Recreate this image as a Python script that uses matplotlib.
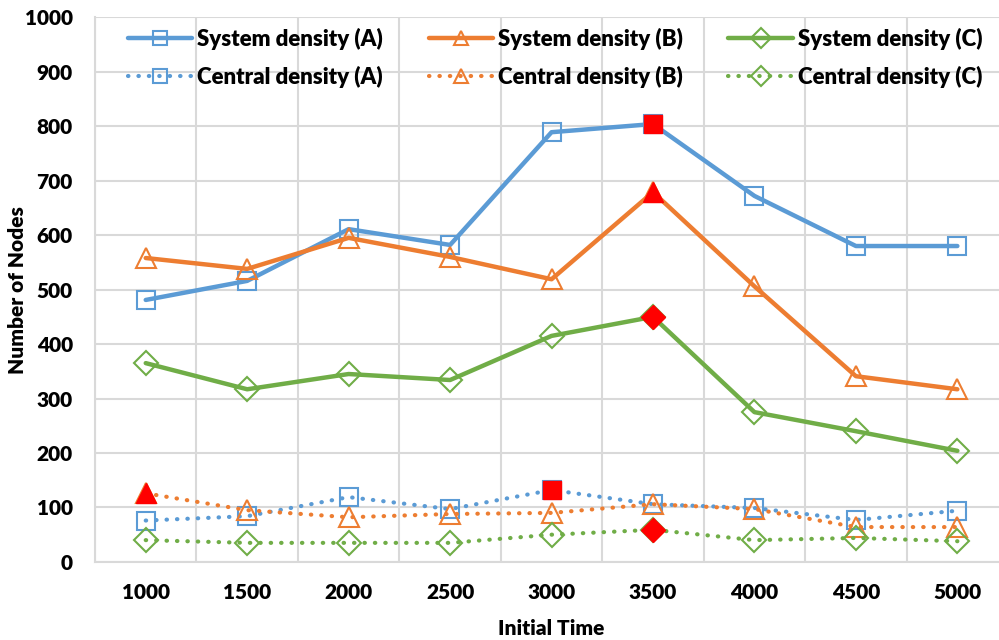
import matplotlib
matplotlib.use("Agg")
import matplotlib.pyplot as plt
import numpy as np

times = [1000, 1500, 2000, 2500, 3000, 3500, 4000, 4500, 5000]

sys_a = [481, 516, 611, 582, 789, 804, 672, 580, 580]
sys_b = [558, 538, 595, 560, 519, 679, 506, 341, 317]
sys_c = [365, 317, 345, 334, 415, 450, 275, 240, 204]
cen_a = [76, 84, 119, 97, 132, 106, 99, 77, 94]
cen_b = [126, 95, 82, 88, 90, 106, 97, 64, 64]
cen_c = [40, 35, 35, 35, 50, 59, 40, 44, 38]

blue = "#5b9bd5"
orange = "#ed7d31"
green = "#70ad47"

series = [
    ("System density (A)", sys_a, blue, "s", "-"),
    ("Central density (A)", cen_a, blue, "s", ":"),
    ("System density (B)", sys_b, orange, "^", "-"),
    ("Central density (B)", cen_b, orange, "^", ":"),
    ("System density (C)", sys_c, green, "D", "-"),
    ("Central density (C)", cen_c, green, "D", ":"),
]

fig = plt.figure(figsize=(9.99, 6.4), dpi=100)
ax = fig.add_axes([0.0951, 0.122, 0.914, 0.851])

x = np.arange(len(times))
for label, vals, col, mk, ls in series:
    msize = 13 if mk == "s" else (14 if mk == "^" else 12)
    if ls == "-":
        ax.plot(x, vals, color=col, lw=3.2, ls="-", solid_capstyle="round",
                marker=mk, ms=msize, mfc="none", mec=col, mew=1.5,
                label=label, zorder=3)
    else:
        ax.plot(x, vals, color=col, lw=3, ls=(0, (0.1, 2.4)), dash_capstyle="round",
                marker=mk, ms=msize, mfc="none", mec=col, mew=1.5,
                label=label, zorder=3)
    # the maximum of each series is marked in solid red
    i = int(np.argmax(vals))
    ax.plot(x[i], vals[i], marker=mk, ms=msize, color="red", mec="red", zorder=4, ls="none")

ax.set_xlim(-0.5, len(times) - 0.5)
ax.set_ylim(0, 1000)
ax.set_yticks(range(0, 1001, 100))
ax.set_xticks(x)
ax.set_xticklabels([str(t) for t in times])
ax.set_xticks(np.arange(-0.5, len(times), 1), minor=True)
ax.grid(True, which="major", axis="y", color="#d9d9d9", lw=1.5)
ax.grid(True, which="minor", axis="x", color="#d9d9d9", lw=1.5)
ax.tick_params(which="both", length=0)
ax.tick_params(axis="y", labelsize=15, pad=16)
ax.tick_params(axis="x", labelsize=15, pad=15)
for lab in ax.get_xticklabels() + ax.get_yticklabels():
    lab.set_fontfamily(["Lato", "DejaVu Sans"])
    lab.set_fontweight("heavy")
for s in ["top", "right"]:
    ax.spines[s].set_visible(False)
for s in ["left", "bottom"]:
    ax.spines[s].set_color("#d9d9d9")
    ax.spines[s].set_linewidth(1.5)
ax.set_axisbelow(True)

lab_font = dict(family=["Lato", "DejaVu Sans"], weight="heavy", size=15)
ax.set_ylabel("Number of Nodes", fontdict=lab_font)
ax.yaxis.set_label_coords(-0.074, 0.5)
ax.set_xlabel("Initial Time", fontdict=lab_font)
ax.xaxis.set_label_coords(0.5, -0.104)

leg = ax.legend(ncol=3, loc="upper left", bbox_to_anchor=(0.036, 0.98), frameon=False,
                borderpad=0, borderaxespad=0,
                handlelength=2.9, handletextpad=0.22, columnspacing=2.05, labelspacing=0.7,
                prop=dict(family=["Lato", "DejaVu Sans"], weight="heavy", size=16))
for h in leg.legend_handles:
    h.set_markersize(10)

fig.savefig("out.png", dpi=100)
